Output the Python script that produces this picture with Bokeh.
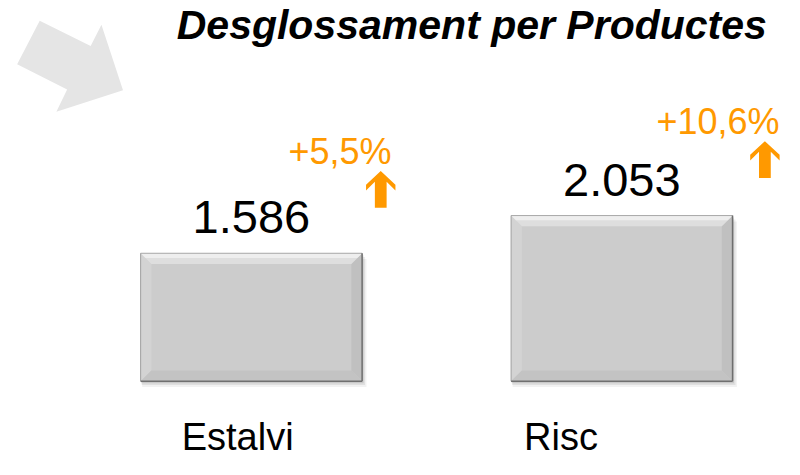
from bokeh.plotting import figure
from bokeh.models import Range1d
from bokeh.core.properties import value
from bokeh.embed import file_html
from bokeh.resources import INLINE

# ---------------- data ----------------
categories = ["Estalvi", "Risc"]
values = [1586, 2053]
value_labels = ["1.586", "2.053"]
growth_labels = ["+5,5%", "+10,6%"]
title_text = "Desglossament per Productes"

# ---------------- layout (reference pixel units) ----------------
PX_PER_CAT = 378.0      # pixels between category centres
PX_PER_UNIT = 0.0835    # pixels per value unit
BASE_PX = 394.0         # pixel row of the zero baseline
FIRST_CENTER_PX = 256.0
BAR_W_PX = 226.0
BEVEL_PX = 11.0
growth_dx_px = [30, 48]      # label right edge beyond bar right edge
growth_dy_px = [92, 84]      # label baseline above bar top
arrow_dx_px = [-11, -15]     # arrow tip relative to label right edge
cat_dx_px = [-14, -62]       # category label centre offset
CAT_BELOW_PX = 72            # category baseline below zero line
W, H = 784, 459
SY = H / 475.0
FIX = 0.355                  # svg baseline correction (fraction of font size)


def ux(px):
    return px / PX_PER_CAT


def uy(px):
    return px / PX_PER_UNIT


def X(px):
    return (px - FIRST_CENTER_PX) / PX_PER_CAT


def Y(px):
    return (BASE_PX - px) / PX_PER_UNIT


def lift(fs):
    return uy(FIX * fs / SY)


xs = list(range(len(categories)))
bar_w = ux(BAR_W_PX)

p = figure(width=W, height=H, output_backend="svg", toolbar_location=None,
           x_range=Range1d(X(0), X(800)), y_range=Range1d(Y(475), Y(0)),
           x_axis_location=None, y_axis_location=None, min_border=0)
p.grid.visible = False
p.outline_line_color = None
p.background_fill_color = "white"

# decorative arrow at top-left
deco = [(40, 21), (92, 47), (103, 25), (125, 93), (57, 115), (68, 92), (17, 66)]
p.patch([X(a) for a, b in deco], [Y(b) for a, b in deco],
        fill_color="#e5e5e5", line_color=None)

# soft shadows
for off, alpha in [(6, 0.05), (4, 0.07), (2, 0.10)]:
    p.vbar(x=[x + ux(off / 2) for x in xs], top=[v - uy(off) for v in values],
           bottom=-uy(off), width=bar_w + ux(off / 2), fill_color="#000000",
           fill_alpha=alpha, line_color=None)

# bars
p.vbar(x=xs, top=values, bottom=0, width=bar_w, fill_color="#cccccc", line_color=None)

# bevels
dx, dy = ux(BEVEL_PX), uy(BEVEL_PX)
bxs, bys, bcols = [], [], []
for x, v in zip(xs, values):
    l, r, t, b = x - bar_w / 2, x + bar_w / 2, v, 0
    bxs += [[l, l + dx, l + dx, l], [r, r - dx, r - dx, r],
            [l, r, r - dx, l + dx], [l, r, r - dx, l + dx]]
    bys += [[t, t - dy, b + dy, b], [t, t - dy, b + dy, b],
            [b, b, b + dy, b + dy], [t, t, t - dy, t - dy]]
    bcols += ["#d3d3d3", "#c0c0c0", "#c3c3c3", "#dedede"]
    # highlight strip along top
    h = uy(BEVEL_PX * 0.45)
    hx = ux(BEVEL_PX * 0.45)
    bxs.append([l, r, r - hx, l + hx])
    bys.append([t, t, t - h, t - h])
    bcols.append("#eeeeee")
p.patches(bxs, bys, fill_color=bcols, line_color=None)

# edges: light top/left, dark right/bottom
lefts = [x - bar_w / 2 for x in xs]
rights = [x + bar_w / 2 for x in xs]
p.segment(x0=lefts, y0=values, x1=rights, y1=values, line_color="#a8a8a8", line_width=1)
p.segment(x0=lefts, y0=values, x1=lefts, y1=[0] * len(xs), line_color="#a0a0a0", line_width=1)
p.segment(x0=rights, y0=values, x1=rights, y1=[0] * len(xs), line_color="#6e6e6e", line_width=1.5)
p.segment(x0=lefts, y0=[0] * len(xs), x1=rights, y1=[0] * len(xs), line_color="#707070", line_width=1.5)

# value labels
FS_VAL = 47
p.text(x=xs, y=[v + uy(20) + lift(FS_VAL) for v in values], text=value_labels,
       text_align="center", text_baseline="alphabetic",
       text_font=value("Liberation Sans"), text_font_size=f"{FS_VAL}px", text_color="black")

# growth labels
FS_G = 36
gx = [x + bar_w / 2 + ux(d) for x, d in zip(xs, growth_dx_px)]
gy = [v + uy(d) for v, d in zip(values, growth_dy_px)]
p.text(x=gx, y=[g + lift(FS_G) for g in gy], text=growth_labels, text_align="right",
       text_baseline="alphabetic", text_font=value("Liberation Sans"),
       text_font_size=f"{FS_G}px", text_color="#ff9900")

# growth arrows
shape = [(0, 0), (-15, 14), (-15, 20), (-6, 11), (-6, 38), (6, 38), (6, 11),
         (15, 20), (15, 14)]
axs, ays = [], []
for x0, y0, d in zip(gx, gy, arrow_dx_px):
    tx, ty = x0 + ux(d), y0 - uy(7)
    axs.append([tx + ux(a) for a, b in shape])
    ays.append([ty - uy(b) for a, b in shape])
p.patches(axs, ays, fill_color="#ff9900", line_color=None)

# category labels
FS_CAT = 38
p.text(x=[x + ux(d) for x, d in zip(xs, cat_dx_px)],
       y=[-uy(CAT_BELOW_PX) + lift(FS_CAT)] * len(xs),
       text=categories, text_align="center", text_baseline="alphabetic",
       text_font=value("Liberation Sans"), text_font_size=f"{FS_CAT}px", text_color="black")

# title
FS_T = 41
p.text(x=[X(782)], y=[Y(40) + lift(FS_T)], text=[title_text], text_align="right",
       text_baseline="alphabetic", text_font=value("Liberation Sans"),
       text_font_style="bold italic", text_font_size=f"{FS_T}px", text_color="black")

open("out.html", "w").write(file_html(p, INLINE))
